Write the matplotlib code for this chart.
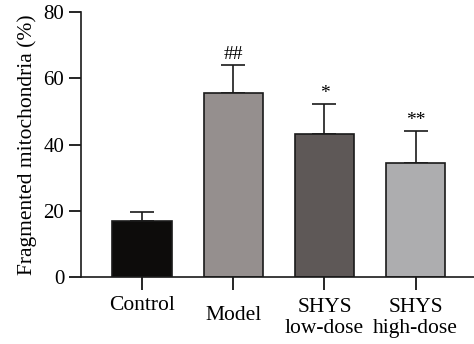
import matplotlib
matplotlib.use("Agg")
import matplotlib.pyplot as plt

# data
groups = ["Control", "Model", "SHYS\nlow-dose", "SHYS\nhigh-dose"]
means = [16.8, 55.5, 43.1, 34.3]
errors = [2.8, 8.5, 9.1, 9.8]
colors = ["#0d0c0b", "#958f8e", "#5e5857", "#adadaf"]
marks = ["", "##", "*", "**"]

plt.rcParams["font.family"] = ["Liberation Serif", "DejaVu Serif"]

fig = plt.figure(figsize=(4.74, 3.44), dpi=100)
ax = fig.add_axes([81 / 474, 1 - 277 / 344, 1 - 81 / 474, 265 / 344])

x = list(range(len(groups)))
ax.bar(x, means, width=0.65, color=colors, edgecolor="#1a1a1a", linewidth=1.2, zorder=2)
ax.errorbar(x, means, yerr=[[0] * len(errors), errors], fmt="none",
            ecolor="#1a1a1a", elinewidth=1.2, capsize=8.5, capthick=1.2, zorder=1)

for xi, m, e, s in zip(x, means, errors, marks):
    if s:
        ax.text(xi, m + e + 0.5, s, ha="center", va="bottom", fontsize=14)

ax.set_xlim(-0.67, 3.64)
ax.set_ylim(0, 80)
ax.set_yticks([0, 20, 40, 60, 80])
ax.set_xticks(x)
ax.set_xticklabels(groups, fontsize=15.5, linespacing=1.15)
# labels in the reference sit at slightly different heights
offsets = [-0.005, -0.04, -0.012, -0.012]
for lbl, off in zip(ax.get_xticklabels(), offsets):
    lbl.set_y(off)
ax.tick_params(axis="y", labelsize=15, length=9, width=1.2, pad=3)
ax.tick_params(axis="x", length=9, width=1.2, pad=4)
ax.set_ylabel("Fragmented mitochondria (%)", fontsize=15.5, labelpad=5)

ax.spines["top"].set_visible(False)
ax.spines["right"].set_visible(False)
for sp in ["left", "bottom"]:
    ax.spines[sp].set_linewidth(1.2)
    ax.spines[sp].set_color("#1a1a1a")

plt.savefig("out.png", dpi=100)
